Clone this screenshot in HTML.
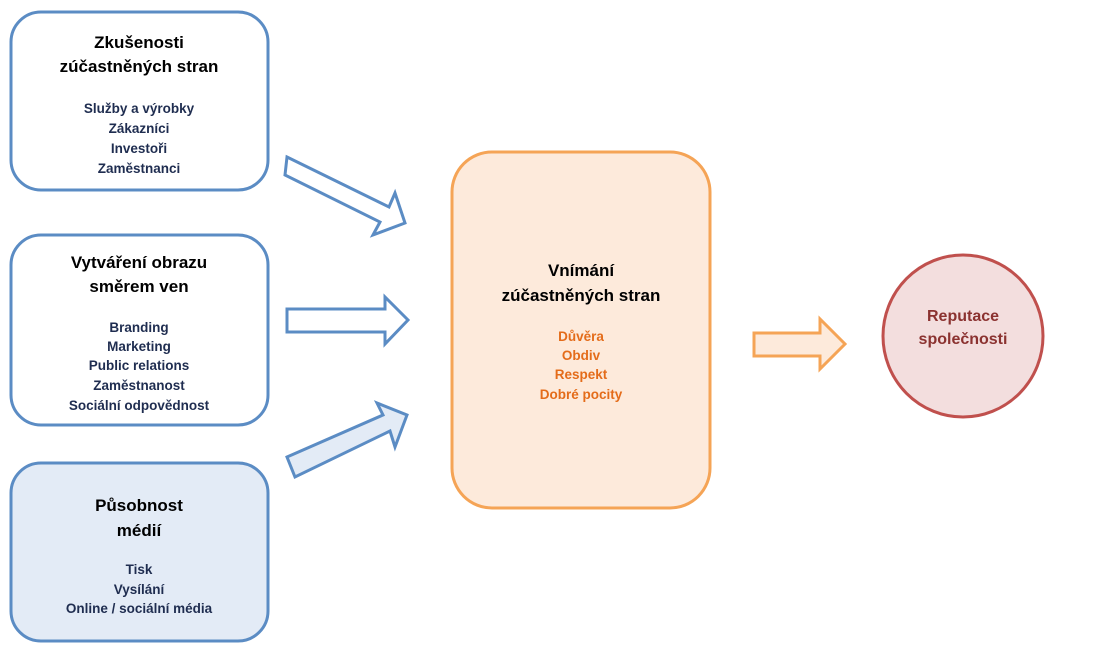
<!DOCTYPE html>
<html><head><meta charset="utf-8"><style>html,body{margin:0;padding:0;background:#fff}</style></head><body>
<svg width="1106" height="654" xmlns="http://www.w3.org/2000/svg" font-family="'Liberation Sans', 'DejaVu Sans', sans-serif" font-weight="bold" text-anchor="middle">
<rect x="11" y="12" width="257" height="178" rx="30" fill="#fff" stroke="#5b8cc4" stroke-width="3"/>
<rect x="11" y="235" width="257" height="190" rx="30" fill="#fff" stroke="#5b8cc4" stroke-width="3"/>
<rect x="11" y="463" width="257" height="178" rx="30" fill="#e3ebf6" stroke="#5b8cc4" stroke-width="3"/>
<rect x="452" y="152" width="258" height="356" rx="40" fill="#fdeadb" stroke="#f5a456" stroke-width="3"/>
<ellipse cx="963" cy="336" rx="80" ry="81" fill="#f3dede" stroke="#c0504d" stroke-width="3"/>
<!-- arrows -->
<polygon points="287,157 389,207 395,193 405,223 373,235 380,222 285,175" fill="#fff" stroke="#5b8cc4" stroke-width="3" stroke-linejoin="miter"/>
<polygon points="287,309 385,309 385,297 408,320 385,344 385,332 287,332" fill="#fff" stroke="#5b8cc4" stroke-width="3"/>
<polygon points="287,457 383,415 377,403 407,415 395,447 390,431 295,477" fill="#e3ebf6" stroke="#5b8cc4" stroke-width="3"/>
<polygon points="754,333 820,333 820,319 845,344 820,369 820,356 754,356" fill="#fdeadb" stroke="#f5a456" stroke-width="3"/>
<g fill="#000" font-size="17">
<text x="139" y="48">Zkušenosti</text><text x="139" y="72">zúčastněných stran</text>
<text x="139" y="268">Vytváření obrazu</text><text x="139" y="292">směrem ven</text>
<text x="139" y="511">Působnost</text><text x="139" y="536">médií</text>
<text x="581" y="276">Vnímání</text><text x="581" y="301">zúčastněných stran</text>
</g>
<g fill="#1f2d50" font-size="13.5">
<text x="139" y="113">Služby a výrobky</text><text x="139" y="133">Zákazníci</text><text x="139" y="153">Investoři</text><text x="139" y="173">Zaměstnanci</text>
<text x="139" y="332">Branding</text><text x="139" y="351">Marketing</text><text x="139" y="370">Public relations</text><text x="139" y="390">Zaměstnanost</text><text x="139" y="410">Sociální odpovědnost</text>
<text x="139" y="574">Tisk</text><text x="139" y="594">Vysílání</text><text x="139" y="613">Online / sociální média</text>
</g>
<g fill="#e46c1a" font-size="13.5">
<text x="581" y="341">Důvěra</text><text x="581" y="360">Obdiv</text><text x="581" y="379">Respekt</text><text x="581" y="399">Dobré pocity</text>
</g>
<g fill="#8b3230" font-size="16">
<text x="963" y="321">Reputace</text><text x="963" y="344">společnosti</text>
</g>
</svg>
</body></html>
